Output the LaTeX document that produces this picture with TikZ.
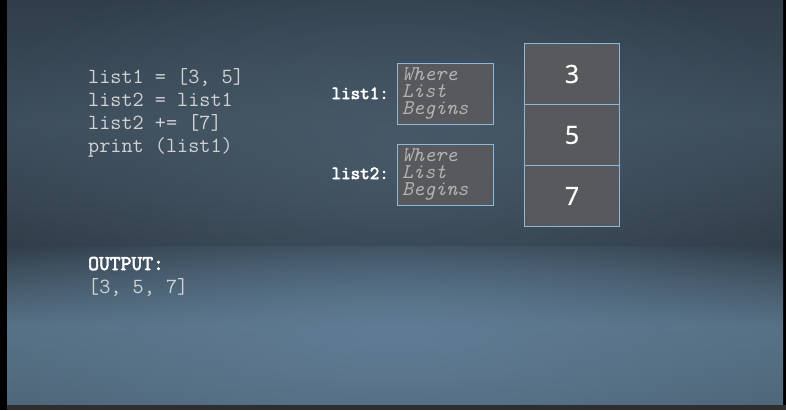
\documentclass[tikz,border=0pt]{standalone}
\usepackage{fontspec}
\newfontfamily\numfont[FakeBold=0.8]{Open Sans}
\newfontfamily\heavymono[FakeBold=3]{Latin Modern Mono}
\usetikzlibrary{fadings}
\tikzfading[name=glowfade, inner color=transparent!0, outer color=transparent!100]
\definecolor{bgtop}{HTML}{303E4A}
\definecolor{bgmid}{HTML}{3D4D5B}
\definecolor{horizon}{HTML}{313D48}
\definecolor{lowmid}{HTML}{556E82}
\definecolor{lowbot}{HTML}{4E6577}
\definecolor{glowlow}{HTML}{62809A}
\definecolor{glowup}{HTML}{4A5C6C}
\definecolor{edge}{HTML}{8DB8DC}
\definecolor{cellfill}{HTML}{58595C}
\definecolor{codecol}{HTML}{D0D2D4}
\definecolor{ghost}{HTML}{B0B2B4}
\definecolor{barcol}{HTML}{2C2E31}
\tikzset{
  codeline/.style={anchor=base west, inner sep=0pt, text=codecol, font=\fontsize{21.6}{23}\ttfamily},
  boldcode/.style={anchor=base west, inner sep=0pt, text=white, font=\fontsize{21}{23}\heavymono},
  lbl/.style={anchor=base east, inner sep=0pt, text=white, font=\fontsize{18.5}{17}\heavymono},
  ptrbox/.style={draw=edge, line width=1pt, fill=cellfill, minimum width=96pt, minimum height=61pt, inner sep=0pt, anchor=north west},
  ptrtext/.style={anchor=north west, inner sep=0pt, align=left, text=ghost, font=\fontsize{21}{17}\ttfamily\itshape},
  cell/.style={draw=edge, line width=1pt, fill=cellfill, minimum width=95pt, minimum height=61pt, inner sep=0pt, anchor=north west, text=white, font=\fontsize{25}{25}\numfont},
}
\begin{document}
\begin{tikzpicture}[x=1pt,y=-1pt]
\useasboundingbox (0,0) rectangle (786,410);
% background
\fill[black] (0,0) rectangle (786,410);
\shade[top color=bgtop, bottom color=horizon, middle color=bgmid] (7,0) rectangle (783,246);
\begin{scope}
\clip (7,0) rectangle (783,246);
\fill[glowup, path fading=glowfade, opacity=0.8] (395,150) ellipse (450 and 200);
\end{scope}
\shade[top color=horizon, bottom color=lowbot, middle color=lowmid] (7,246) rectangle (783,405);
\begin{scope}
\clip (7,246) rectangle (783,405);
\fill[glowlow, path fading=glowfade, opacity=0.8] (395,335) ellipse (480 and 150);
\end{scope}
\fill[barcol] (7,405) rectangle (786,410);
% code
\node[codeline] (c1) at (88,83) {list1 = [3, 5]};
\node[codeline] (c2) at (88,106) {list2 = list1};
\node[codeline] (c3) at (88,129) {list2 += [7]};
\node[codeline] (c4) at (88,152) {print (list1)};
% output
\node[boldcode] (o1) at (88,270) {OUTPUT:};
\node[codeline] (o2) at (88,293) {[3, 5, 7]};
% pointer boxes
\node[ptrbox] (b1) at (397,63) {};
\node[ptrbox] (b2) at (397,144) {};
\node[ptrtext] (t1) at (402,67) {Where\\List\\Begins};
\node[ptrtext] (t2) at (402,148) {Where\\List\\Begins};
\node[lbl] (l1) at (389,99) {list1:};
\node[lbl] (l2) at (389,179) {list2:};
% cells
\node[cell] (n3) at (524,43) {3};
\node[cell] (n5) at (524,104) {5};
\node[cell] (n7) at (524,165) {7};
\end{tikzpicture}
\end{document}
